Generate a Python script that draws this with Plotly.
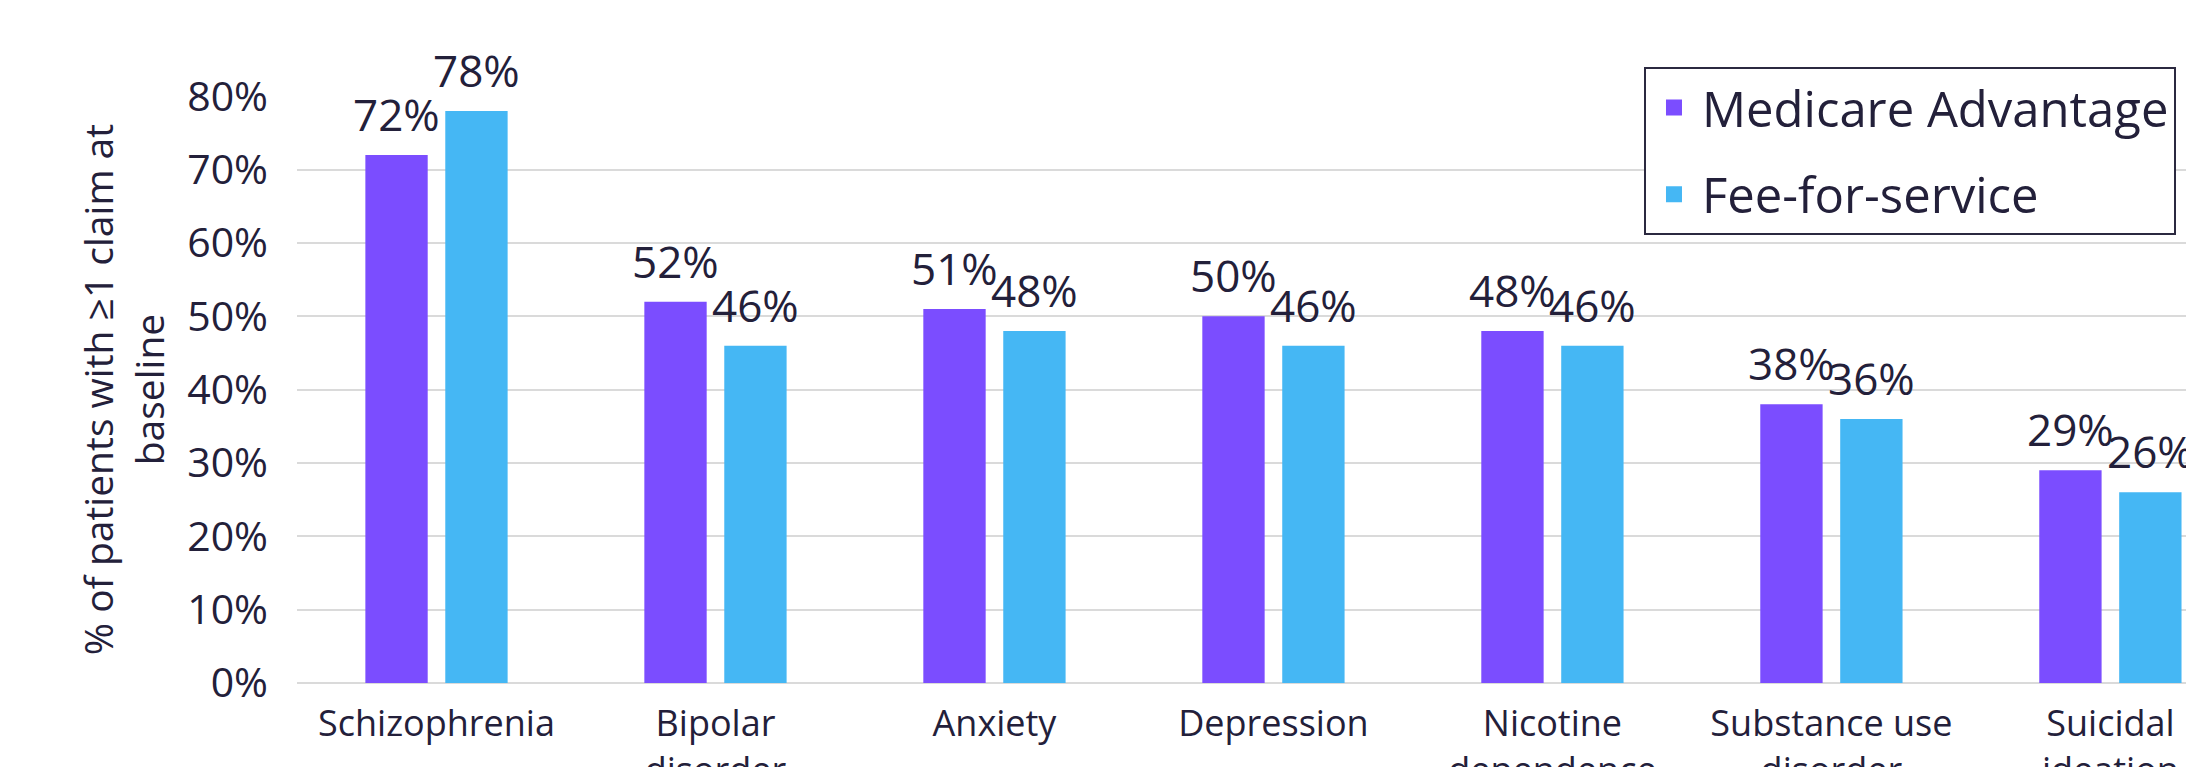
import plotly.graph_objects as go

categories = ["Schizophrenia", "Bipolar<br>disorder", "Anxiety", "Depression",
              "Nicotine<br>dependence", "Substance use<br>disorder", "Suicidal<br>ideation"]
medicare_advantage = [0.72, 0.52, 0.51, 0.50, 0.48, 0.38, 0.29]
fee_for_service = [0.78, 0.46, 0.48, 0.46, 0.46, 0.36, 0.26]
series_names = ["Medicare Advantage", "Fee-for-service"]
tick_vals = [0, 0.1, 0.2, 0.3, 0.4, 0.5, 0.6, 0.7, 0.8]
tick_text = ["0%", "10%", "20%", "30%", "40%", "50%", "60%", "70%", "80%"]

PURPLE = "#7B4DFF"
BLUE = "#45B7F4"
TEXT = "#23203A"
GRID = "#DADADA"
FONT = "Open Sans"
SLOT_HALF_PX = 40  # half of one bar slot within a group (layout)

fig = go.Figure()
for idx, (name, vals, col) in enumerate([(series_names[0], medicare_advantage, PURPLE),
                                         (series_names[1], fee_for_service, BLUE)]):
    fig.add_trace(go.Bar(
        x=categories, y=vals, name=name, marker=dict(color=col, line=dict(width=0)),
        showlegend=False,
    ))
    # legend proxy
    fig.add_trace(go.Scatter(
        x=[None], y=[None], mode="markers", name=name, legendgroup=name,
        marker=dict(symbol="square", size=24, color=col),
    ))
    shift = -SLOT_HALF_PX if idx == 0 else SLOT_HALF_PX
    for c, v in zip(categories, vals):
        fig.add_annotation(
            x=c, y=v, text=f"{round(v*100)}%", showarrow=False,
            xanchor="center", yanchor="bottom", xshift=shift, yshift=9,
            font=dict(family=FONT, size=44, color=TEXT),
        )

fig.update_layout(
    width=2186, height=767,
    margin=dict(l=297, r=0, t=96, b=84),
    paper_bgcolor="white", plot_bgcolor="white",
    barmode="group", bargap=0.427, bargroupgap=0.22,
    font=dict(family=FONT, color=TEXT),
    showlegend=True,
    legend=dict(
        x=0.9947, xanchor="right", y=1.049, yanchor="top",
        bordercolor="#2B2940", borderwidth=2, bgcolor="white",
        font=dict(family=FONT, size=49, color=TEXT),
        tracegroupgap=20, itemwidth=46,
    ),
    xaxis=dict(
        range=[-0.5, 6.271], showgrid=False, showline=False, ticks="",
        tickfont=dict(family=FONT, size=36, color=TEXT), automargin=False,
        ticklabelstandoff=16,
    ),
    yaxis=dict(
        range=[0, 0.8005], tickvals=tick_vals, ticktext=tick_text,
        showgrid=True, gridcolor=GRID, gridwidth=2,
        zeroline=True, zerolinecolor=GRID, zerolinewidth=2,
        showline=False, ticks="", automargin=False,
        tickfont=dict(family=FONT, size=41, color=TEXT),
        ticklabelstandoff=28,
        title=dict(text="% of patients with ≥1 claim at<br>baseline",
                   font=dict(family=FONT, size=39, color=TEXT), standoff=10),
    ),
)

fig.write_html("out.html")
